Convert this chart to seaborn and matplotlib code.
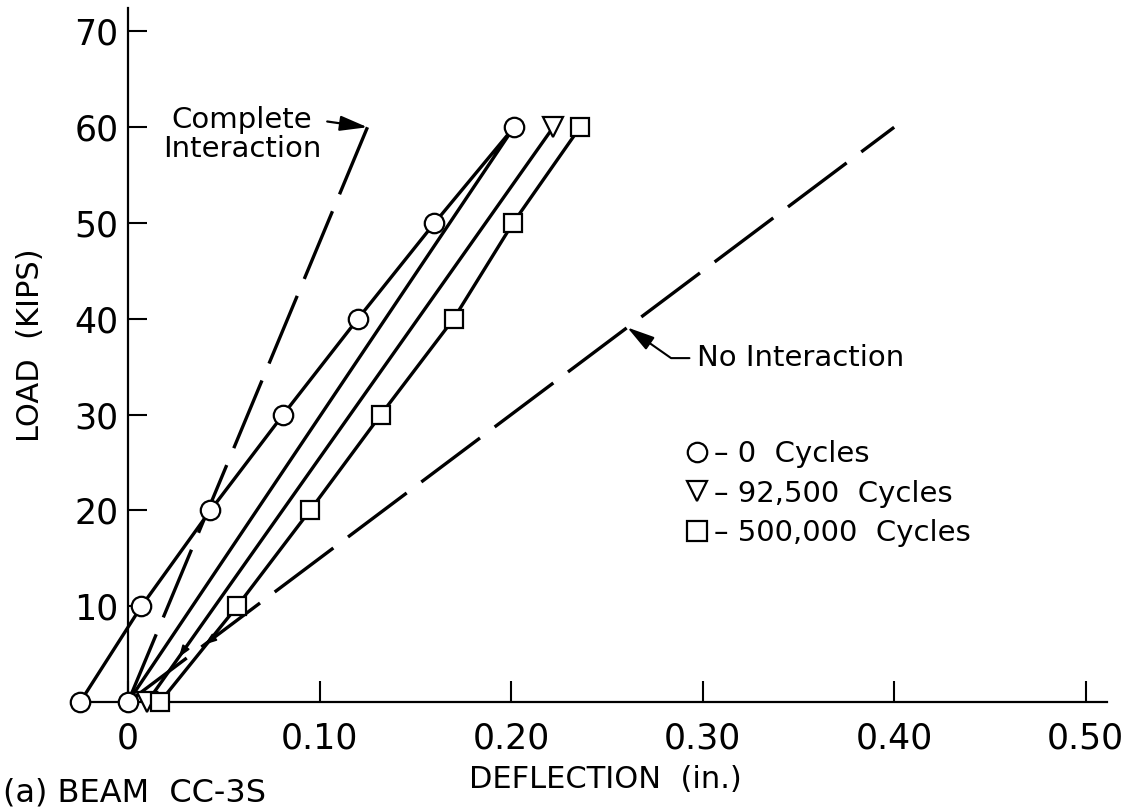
import matplotlib
matplotlib.use('Agg')
import matplotlib.pyplot as plt
import seaborn as sns
from matplotlib.lines import Line2D

# deflection (in.) vs load (kips)
cyc0_defl = [-0.025, 0.007, 0.043, 0.081, 0.120, 0.160, 0.2015, 0.0]
cyc0_load = [0, 10, 20, 30, 40, 50, 60, 0]
cyc92_defl = [0.010, 0.222]
cyc92_load = [0, 60]
cyc500_defl = [0.0167, 0.057, 0.095, 0.132, 0.170, 0.201, 0.236]
cyc500_load = [0, 10, 20, 30, 40, 50, 60]
complete_defl = [0.0, 0.125]
complete_load = [0, 60]
noint_defl = [0.0, 0.40]
noint_load = [0, 60]

legend_labels = ['\u2013 0  Cycles', '\u2013 92,500  Cycles', '\u2013 500,000  Cycles']
x_ticks = [0, 0.1, 0.2, 0.3, 0.4, 0.5]
x_ticklabels = ['0', '0.10', '0.20', '0.30', '0.40', '0.50']
y_ticks = [10, 20, 30, 40, 50, 60, 70]

W, H = 1141, 810


def along(xs, ys, t):
    return xs[0] + t * (xs[-1] - xs[0]), ys[0] + t * (ys[-1] - ys[0])


def main():
    sns.set_style('white')
    plt.rcParams['font.family'] = ['DejaVu Sans']
    plt.rcParams['text.color'] = 'black'
    plt.rcParams['axes.labelcolor'] = 'black'

    fig = plt.figure(figsize=(W / 100, H / 100), dpi=100)
    ax = fig.add_axes([61 / W, 93.6 / H, 1063 / W, 713.7 / H])

    line_kw = dict(color='black', lw=2.4, sort=False, estimator=None, ax=ax, clip_on=False)
    mark_kw = dict(markersize=14, markerfacecolor='white', markeredgecolor='black', markeredgewidth=1.6)

    sns.lineplot(x=complete_defl, y=complete_load, linestyle=(0, (22, 5.5)), **line_kw)
    sns.lineplot(x=noint_defl, y=noint_load, linestyle=(0, (22, 5.5)), **line_kw)
    sns.lineplot(x=cyc0_defl, y=cyc0_load, marker='o', zorder=4, **mark_kw, **line_kw)
    sns.lineplot(x=cyc92_defl, y=cyc92_load, marker='v', zorder=4, **mark_kw, **line_kw)
    sns.lineplot(x=cyc500_defl, y=cyc500_load, marker='s', zorder=4,
                 **{**mark_kw, 'markersize': 13}, **line_kw)

    # small direction arrows near the origin
    small = dict(arrowstyle='-|>,head_length=0.7,head_width=0.25', color='black', lw=1.2,
                 shrinkA=0, shrinkB=0)
    ax.annotate('', xy=along(cyc92_defl, cyc92_load, 0.078),
                xytext=along(cyc92_defl, cyc92_load, 0.12), arrowprops=small)
    ax.annotate('', xy=along(noint_defl, noint_load, 0.10),
                xytext=along(noint_defl, noint_load, 0.14), arrowprops=small)

    ax.set_xlim(-0.035, 0.52)
    ax.set_ylim(-1.5, 73)

    ax.annotate('Complete\nInteraction', xy=(complete_defl[1], complete_load[1]),
                xytext=(0.0595, 59.2), ha='center', va='center', fontsize=21, linespacing=1.05,
                arrowprops=dict(arrowstyle='-|>,head_length=0.8,head_width=0.22', color='black',
                                lw=1.6, relpos=(1.0, 0.75), shrinkA=2, shrinkB=0))
    tip = along(noint_defl, noint_load, 39.1 / 60)
    ax.annotate('No Interaction', xy=tip, xytext=(0.297, 35.9), ha='left', va='center',
                fontsize=21,
                arrowprops=dict(arrowstyle='-|>,head_length=0.8,head_width=0.22', color='black',
                                lw=1.5, relpos=(0, 0.5), shrinkA=3, shrinkB=0,
                                connectionstyle='angle,angleA=0,angleB=-35,rad=0'))

    handles = [Line2D([], [], ls='none', marker=m, **mark_kw) for m in ['o', 'v', 's']]
    ax.legend(handles, legend_labels, loc='upper left', bbox_to_anchor=(685 / W, 1 - 440 / H),
              bbox_transform=fig.transFigure, frameon=False, fontsize=21, handlelength=0.8,
              handletextpad=0.2, borderpad=0, borderaxespad=0, labelspacing=0.4)

    for side in ['top', 'right']:
        ax.spines[side].set_visible(False)
    for side in ['left', 'bottom']:
        ax.spines[side].set_linewidth(1.6)
        ax.spines[side].set_color('black')
        ax.spines[side].set_position(('data', 0))
    ax.spines['left'].set_bounds(0, 72.4)
    ax.spines['bottom'].set_bounds(-0.028, 0.511)

    ax.set_xticks(x_ticks)
    ax.set_xticklabels(x_ticklabels)
    ax.set_yticks(y_ticks)
    ax.tick_params(axis='x', bottom=True, direction='in', length=15, width=1.5, labelsize=25,
                   pad=14, colors='black')
    ax.tick_params(axis='y', left=True, direction='in', length=14, width=1.5, labelsize=25,
                   pad=7, colors='black')

    fig.text(31 / W, 1 - 345 / H, 'LOAD  (KIPS)', rotation=90, ha='center', va='center', fontsize=22)
    fig.text(605 / W, 1 - 780 / H, 'DEFLECTION  (in.)', ha='center', va='center', fontsize=22)
    fig.text(3 / W, 1 - 793 / H, '(a) BEAM  CC-3S', ha='left', va='center', fontsize=23)

    fig.savefig('out.png', dpi=100)


if __name__ == '__main__':
    main()
